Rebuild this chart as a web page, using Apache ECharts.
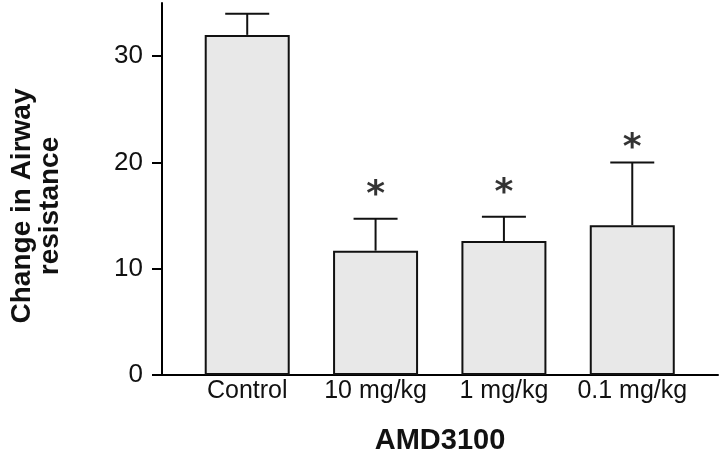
<!DOCTYPE html>
<html>
<head>
<meta charset="utf-8">
<script src="https://cdn.jsdelivr.net/npm/echarts@6/dist/echarts.min.js"></script>
<style>
  html, body { margin: 0; padding: 0; background: #fff; }
  #chart { width: 720px; height: 463px; }
</style>
</head>
<body>
<div id="chart"></div>
<script>
// groups on the x axis
var categories = ['Control', '10 mg/kg', '1 mg/kg', '0.1 mg/kg'];
// mean change in airway resistance
var means = [32.0, 11.7, 12.6, 14.1];
// error bar (upper) lengths
var errors = [2.0, 3.0, 2.3, 5.9];
// asterisk positions (y value) for significant groups, null = none
var starY = [null, 17.4, 17.6, 21.9];
var yTicks = [0, 10, 20, 30];

var font = '"Liberation Sans", Arial, Helvetica, sans-serif';

var barData = means.map(function (v, i) { return [i, v]; });
var errData = means.map(function (v, i) { return [i, v, errors[i]]; });
var starData = [];
starY.forEach(function (v, i) { if (v != null) starData.push([i, v]); });

var chart = echarts.init(document.getElementById('chart'));
chart.setOption({
    backgroundColor: '#fff',
    animation: false,
    grid: { left: 160, right: 2, top: 3, bottom: 88, containLabel: false },
    xAxis: {
        type: 'value',
        min: -0.664,
        max: 3.668,
        splitLine: { show: false },
        axisLine: { lineStyle: { color: '#000', width: 2 } },
        axisTick: { show: false },
        axisLabel: {
            customValues: [0, 1, 2, 3],
            formatter: function (v) { return categories[Math.round(v)]; },
            color: '#111', fontFamily: font, fontSize: 25, margin: 4
        },
        name: 'AMD3100',
        nameLocation: 'middle',
        nameGap: 51,
        nameTextStyle: { color: '#111', fontFamily: font, fontSize: 29, fontWeight: 'bold' }
    },
    yAxis: {
        type: 'value',
        min: 0,
        max: 35,
        splitLine: { show: false },
        axisLine: { onZero: false, lineStyle: { color: '#000', width: 2 } },
        axisTick: { customValues: yTicks, length: 10, lineStyle: { color: '#000', width: 2 } },
        axisLabel: {
            customValues: yTicks,
            color: '#111', fontFamily: font, fontSize: 26, margin: 19
        },
        name: 'Change in Airway\nresistance',
        nameLocation: 'middle',
        nameRotate: 90,
        nameGap: 98,
        nameTextStyle: {
            color: '#111', fontFamily: font, fontSize: 28, fontWeight: 'bold',
            lineHeight: 28, align: 'center', padding: [0, 34, 0, 0]
        }
    },
    series: [
        {
            type: 'bar',
            data: barData,
            barWidth: 85,
            itemStyle: { color: '#e8e8e8', borderColor: '#111', borderWidth: 2 }
        },
        {
            type: 'custom',
            data: errData,
            renderItem: function (params, api) {
                var base = api.coord([api.value(0), api.value(1)]);
                var top = api.coord([api.value(0), api.value(1) + api.value(2)]);
                var style = { stroke: '#111', lineWidth: 2 };
                return {
                    type: 'group',
                    children: [
                        { type: 'line', shape: { x1: base[0], y1: base[1], x2: top[0], y2: top[1] }, style: style },
                        { type: 'line', shape: { x1: top[0] - 22, y1: top[1], x2: top[0] + 22, y2: top[1] }, style: style }
                    ]
                };
            },
            z: 3
        },
        {
            type: 'scatter',
            data: starData,
            symbolSize: 0,
            label: {
                show: true,
                position: 'inside',
                offset: [0, 6],
                formatter: '*',
                color: '#000',
                fontFamily: '"DejaVu Sans", sans-serif',
                fontSize: 36,
                fontWeight: 'bold'
            },
            z: 4
        }
    ]
});
</script>
</body>
</html>
